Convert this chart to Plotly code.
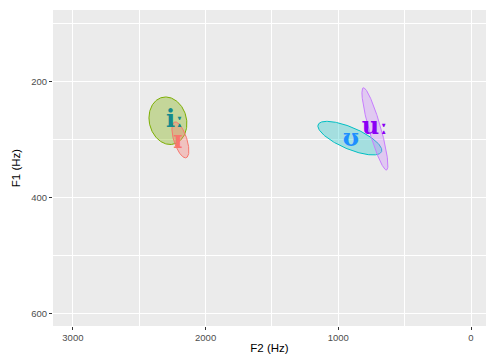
import numpy as np
import plotly.graph_objects as go

vowels = ["iː", "ɪ", "ʊ", "uː"]
f2_center = [2284, 2190, 913, 724]
f1_center = [267, 300, 297, 281]
f2_half = [143, 64, 241, 98]
f1_half = [41, 31, 29, 71]
corr = [-0.12, -0.6, -0.72, -0.88]
label_f2 = [2231, 2209, 905, 724]
label_f1 = [268, 304, 300, 280]

ell_colors = ["#7CAE00", "#F8766D", "#00BFC4", "#C77CFF"]
ell_fills = ["rgba(124,174,0,0.35)", "rgba(248,118,109,0.35)", "rgba(0,191,196,0.3)", "rgba(199,124,255,0.3)"]
label_colors = ["#148A8C", "#F8766D", "#1E8FFF", "#8A00F5"]

fig = go.Figure()
t = np.linspace(0, 2 * np.pi, 200)
for i, v in enumerate(vowels):
    phi = np.arccos(corr[i])
    x = f2_center[i] + f2_half[i] * np.cos(t)
    y = f1_center[i] + f1_half[i] * np.cos(t + phi)
    fig.add_trace(go.Scatter(x=x, y=y, mode="lines", fill="toself",
                             line=dict(color=ell_colors[i], width=1),
                             fillcolor=ell_fills[i], hoverinfo="skip", showlegend=False))
for i, v in enumerate(vowels):
    fig.add_trace(go.Scatter(x=[label_f2[i]], y=[label_f1[i]], mode="text", text=[v],
                             textfont=dict(family="DejaVu Serif", size=24, color=label_colors[i], weight="bold"),
                             showlegend=False))

fig.update_layout(
    width=487, height=354,
    margin=dict(l=53, r=1, t=10, b=28),
    paper_bgcolor="white", plot_bgcolor="#EBEBEB",
    font=dict(family="Liberation Sans", color="#000000"),
    xaxis=dict(range=[3150, -113], tickvals=[3000, 2000, 1000, 0], ticktext=["3000", "2000", "1000", "0"],
               showgrid=True, gridcolor="white", gridwidth=1.1, zeroline=False,
               ticks="outside", ticklen=3, tickcolor="#333333", tickfont=dict(size=9.5, color="#4D4D4D"),
               minor=dict(tickvals=[2500, 1500, 500], showgrid=True, gridcolor="white", gridwidth=0.5),
               title=dict(text="F2 (Hz)", font=dict(size=11.5), standoff=2), showline=False),
    yaxis=dict(range=[621, 76], tickvals=[200, 400, 600], ticktext=["200", "400", "600"],
               showgrid=True, gridcolor="white", gridwidth=1.1, zeroline=False,
               ticks="outside", ticklen=3, tickcolor="#333333", tickfont=dict(size=9.5, color="#4D4D4D"),
               minor=dict(tickvals=[100, 300, 500], showgrid=True, gridcolor="white", gridwidth=0.5),
               title=dict(text="F1 (Hz)", font=dict(size=11.5), standoff=8), showline=False),
)
fig.write_html("out.html")
